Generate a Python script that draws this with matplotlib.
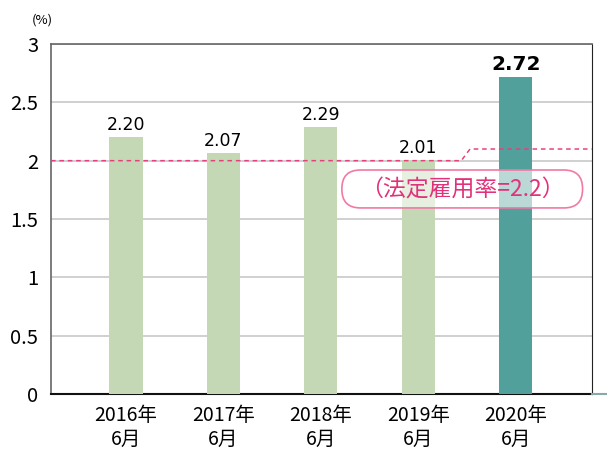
import matplotlib
matplotlib.use('Agg')
import matplotlib.pyplot as plt
from matplotlib.lines import Line2D
from matplotlib.patches import FancyBboxPatch

plt.rcParams['font.family'] = ['Noto Sans CJK JP', 'DejaVu Sans']

# data
labels = ['2016年\n6月', '2017年\n6月', '2018年\n6月', '2019年\n6月', '2020年\n6月']
rates = [2.20, 2.07, 2.29, 2.01, 2.72]
law_rate = [2.0, 2.0, 2.1, 2.1]
law_note = '（法定雇用率=2.2）'

light = '#c4d8b6'
dark = '#52a09b'
pink = '#e8407f'

fig = plt.figure(figsize=(6.07, 4.5), dpi=100)
ax = fig.add_axes([0.084, 0.1244, 0.891, 0.7778])

x = list(range(len(rates)))
colors = [light] * (len(rates) - 1) + [dark]
ax.bar(x, rates, width=0.34, color=colors, zorder=3)

for i, v in enumerate(rates):
    last = i == len(rates) - 1
    ax.text(i, v + 0.025, f'{v:.2f}', ha='center', va='bottom',
            fontsize=14.5 if last else 12.5,
            fontweight='bold' if last else 'normal',
            family='DejaVu Sans', zorder=5)

# legal employment rate (dashed step)
ax.plot([-0.77, 3.44, 3.53, 4.78], law_rate, color=pink, lw=1.1,
        ls=(0, (3, 2.5)), zorder=4, clip_on=False)

# rounded note box
box = FancyBboxPatch((2.215, 1.595), 2.47, 0.325,
                     boxstyle='round,pad=0,rounding_size=0.19',
                     mutation_aspect=0.84, fc=(1, 1, 1, 0.6), ec='#f07aa5',
                     lw=1.2, zorder=6)
ax.add_patch(box)
ax.text(3.45, 1.752, law_note, ha='center', va='center', fontsize=16.5,
        color='#e2307a', zorder=7)

ax.set_xlim(-0.77, 4.78)
ax.set_ylim(0, 3)
ax.set_yticks([0, 0.5, 1, 1.5, 2, 2.5, 3])
ax.set_yticklabels(['0', '0.5', '1', '1.5', '2', '2.5', '3'])
ax.set_xticks(x)
ax.set_xticklabels(labels, linespacing=1.2)
ax.tick_params(axis='y', length=0, pad=9, labelsize=14.5)
ax.tick_params(axis='x', length=0, pad=8, labelsize=14)

ax.grid(axis='y', color='#c8c8c8', lw=1.2, zorder=0)
for s in ['left', 'top']:
    ax.spines[s].set_color('#666666')
    ax.spines[s].set_linewidth(1.2)
ax.spines['right'].set_color('#222222')
ax.spines['bottom'].set_color('#111111')
ax.spines['bottom'].set_linewidth(1.5)

fig.add_artist(Line2D([0.975, 1.0], [0.1244, 0.1244], color='#8aa8a6', lw=1.5))
fig.text(0.07, 0.955, '(%)', ha='center', va='center', fontsize=9.5)

fig.savefig('out.png', dpi=100)
